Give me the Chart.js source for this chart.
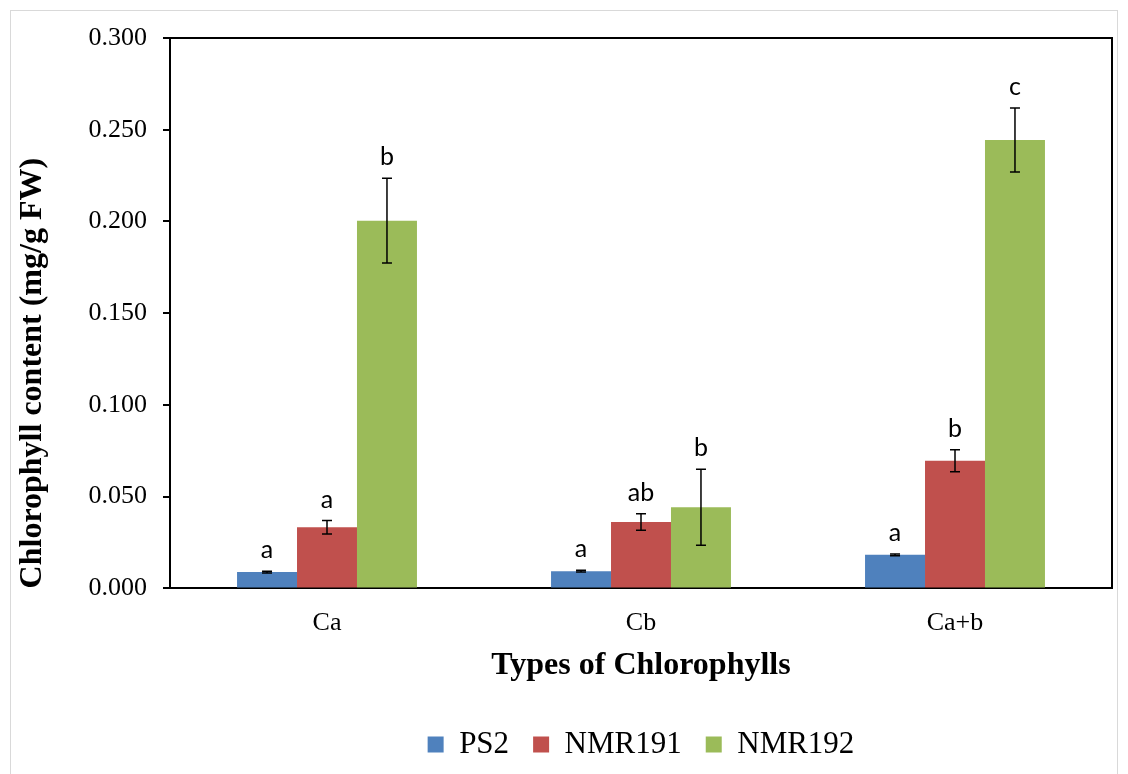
<!DOCTYPE html>
<html>
<head>
<meta charset="utf-8">
<script src="https://cdn.jsdelivr.net/npm/chart.js@4.4.1/dist/chart.umd.min.js"></script>
<style>
  html, body { margin: 0; padding: 0; background: #fff; }
  #wrap { position: relative; width: 1128px; height: 774px; }
  #frame { position: absolute; left: 10px; top: 10px; width: 1106px; height: 770px; border: 1px solid #d9d9d9; pointer-events: none; }
</style>
</head>
<body>
<div id="wrap">
  <canvas id="chlChart" width="1128" height="774"></canvas>
  <div id="frame"></div>
</div>
<script>
const categories = ['Ca', 'Cb', 'Ca+b'];
const seriesNames = ['PS2', 'NMR191', 'NMR192'];
const ps2 = [0.0089, 0.0094, 0.0183];
const nmr191 = [0.0333, 0.0362, 0.0696];
const nmr192 = [0.2004, 0.0442, 0.2444];
const ps2Err = [0.0005, 0.0005, 0.0005];
const nmr191Err = [0.0037, 0.0045, 0.0060];
const nmr192Err = [0.0231, 0.0207, 0.0175];
const ps2Letters = ['a', 'a', 'a'];
const nmr191Letters = ['a', 'ab', 'b'];
const nmr192Letters = ['b', 'b', 'c'];
const yMin = 0, yMax = 0.3, yStep = 0.05;

const colors = ['#4F81BD', '#C0504D', '#9BBB59'];
const serif = '"Liberation Serif", "Times New Roman", serif';

// error bars + significance letters, drawn from the bar elements
const errorBarPlugin = {
  id: 'errorBars',
  afterDatasetsDraw(chart) {
    const ctx = chart.ctx;
    const y = chart.scales.y;
    chart.data.datasets.forEach((ds, i) => {
      const meta = chart.getDatasetMeta(i);
      meta.data.forEach((bar, j) => {
        const v = ds.data[j], e = ds.errors[j];
        const top = y.getPixelForValue(v + e);
        const bot = y.getPixelForValue(v - e);
        ctx.save();
        ctx.strokeStyle = '#000';
        ctx.lineWidth = 1.5;
        ctx.beginPath();
        ctx.moveTo(bar.x, top); ctx.lineTo(bar.x, bot);
        ctx.moveTo(bar.x - 5, top); ctx.lineTo(bar.x + 5, top);
        ctx.moveTo(bar.x - 5, bot); ctx.lineTo(bar.x + 5, bot);
        ctx.stroke();
        ctx.fillStyle = '#000';
        ctx.font = '25px Lato, "Open Sans", sans-serif';
        ctx.textAlign = 'center';
        ctx.textBaseline = 'alphabetic';
        ctx.fillText(ds.letters[j], bar.x, top - 13);
        ctx.restore();
      });
    });
  }
};

const frameBoxPlugin = {
  id: 'frameBox',
  afterDraw(chart) {
    const a = chart.chartArea, ctx = chart.ctx;
    ctx.save();
    ctx.strokeStyle = '#000';
    ctx.lineWidth = 2;
    ctx.beginPath();
    ctx.moveTo(a.left - 7, a.top); ctx.lineTo(a.right, a.top); ctx.lineTo(a.right, a.bottom);
    ctx.stroke();
    ctx.restore();
  }
};

new Chart(document.getElementById('chlChart'), {
  type: 'bar',
  data: {
    labels: categories,
    datasets: [
      { label: seriesNames[0], data: ps2, errors: ps2Err, letters: ps2Letters, backgroundColor: colors[0] },
      { label: seriesNames[1], data: nmr191, errors: nmr191Err, letters: nmr191Letters, backgroundColor: colors[1] },
      { label: seriesNames[2], data: nmr192, errors: nmr192Err, letters: nmr192Letters, backgroundColor: colors[2] }
    ]
  },
  options: {
    responsive: false,
    animation: false,
    datasets: { bar: { categoryPercentage: 0.573, barPercentage: 1.0 } },
    layout: { padding: { left: 10, right: 16, top: 38, bottom: 4 } },
    plugins: {
      legend: {
        position: 'bottom',
        fullSize: false,
        labels: {
          font: { family: serif, size: 31 },
          color: '#000',
          boxWidth: 16,
          boxHeight: 16,
          padding: 24
        }
      },
      tooltip: { enabled: false }
    },
    scales: {
      x: {
        grid: { display: false, drawTicks: false },
        border: { color: '#000', width: 2 },
        ticks: { color: '#000', font: { family: serif, size: 26 }, padding: 19 },
        title: { display: true, text: 'Types of Chlorophylls', color: '#000', font: { family: serif, size: 32, weight: 'bold' }, padding: { top: -11, bottom: 20 } }
      },
      y: {
        min: yMin,
        max: yMax,
        grid: { drawOnChartArea: false, drawTicks: true, tickLength: 7, color: '#000', lineWidth: 2 },
        border: { color: '#000', width: 2 },
        ticks: { stepSize: yStep, color: '#000', font: { family: serif, size: 26 }, padding: 16,
          callback: v => v.toFixed(3) },
        title: { display: true, align: 'start', text: 'Chlorophyll content (mg/g FW)', color: '#000', font: { family: serif, size: 32, weight: 'bold' } },
        afterFit: s => { s.width = 160; }
      }
    }
  },
  plugins: [errorBarPlugin, frameBoxPlugin]
});
</script>
</body>
</html>
